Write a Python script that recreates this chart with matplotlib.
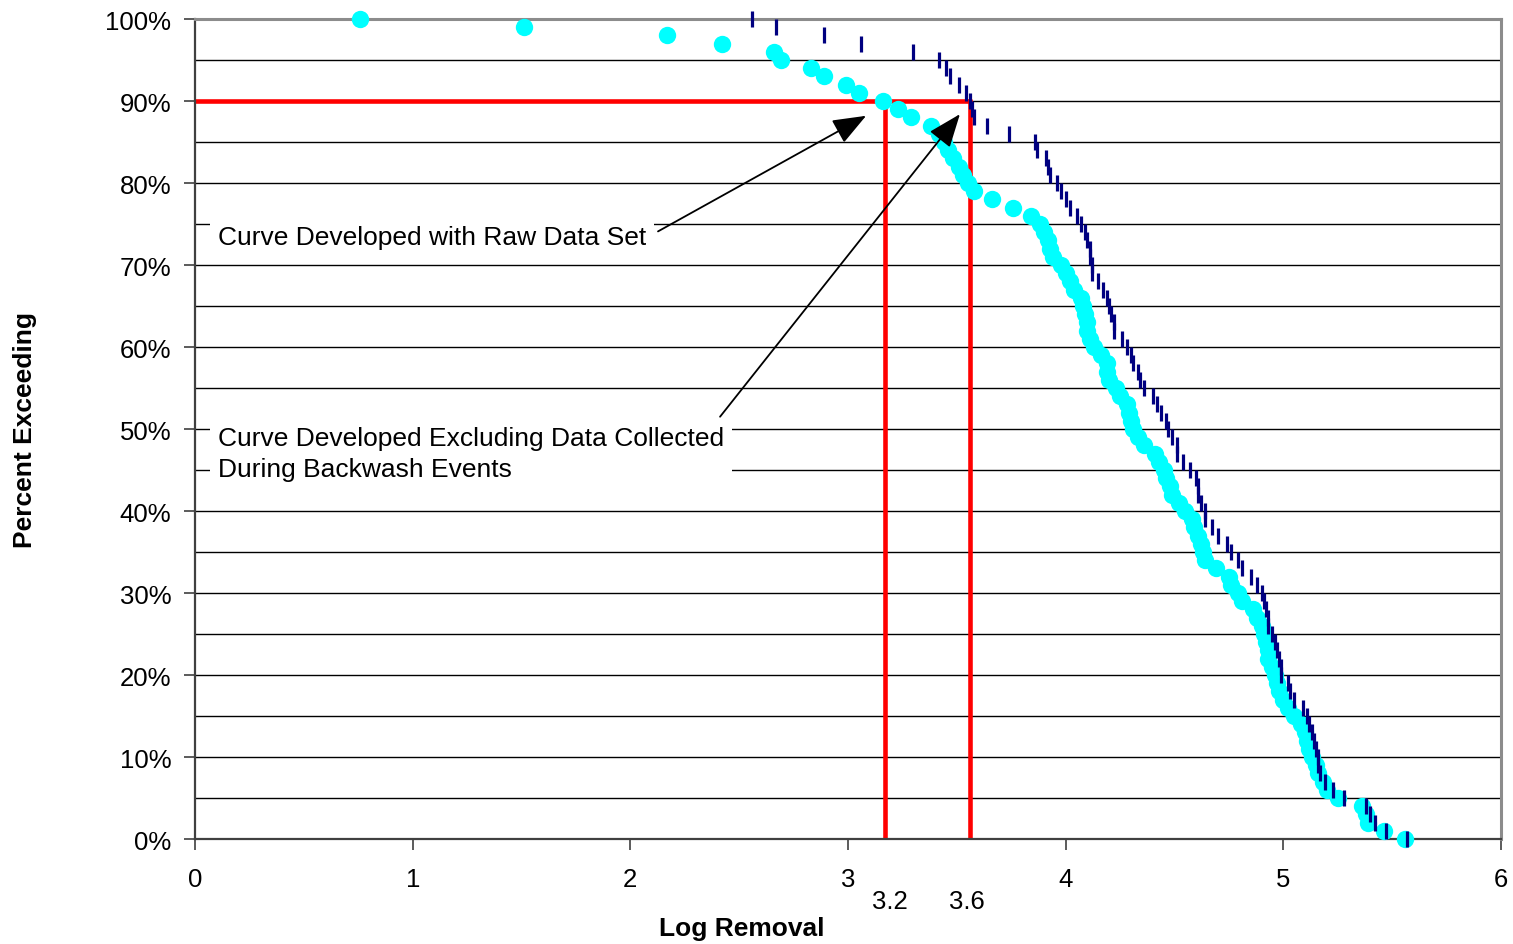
import numpy as np
import matplotlib
matplotlib.use("Agg")
import matplotlib.pyplot as plt
from matplotlib.ticker import MultipleLocator, PercentFormatter

plt.rcParams["font.family"] = ["Liberation Sans", "DejaVu Sans"]

# percent of samples exceeding, one row per ranked sample (100% -> 0%)
EXCEED_PCT = list(range(100, -1, -1))

# log removal, all data (curve excluding backwash events) - cyan dots
LR_EXCL = [
    0.76, 1.51, 2.17, 2.42, 2.66, 2.69, 2.83, 2.89, 2.99, 3.05,
    3.16, 3.23, 3.29, 3.38, 3.42, 3.44, 3.46, 3.48, 3.51, 3.53,
    3.55, 3.58, 3.66, 3.76, 3.84, 3.88, 3.90, 3.92, 3.93, 3.94,
    3.98, 4.00, 4.02, 4.04, 4.07, 4.08, 4.09, 4.10, 4.10, 4.11,
    4.13, 4.16, 4.19, 4.19, 4.20, 4.23, 4.25, 4.28, 4.29, 4.30,
    4.31, 4.33, 4.36, 4.41, 4.43, 4.45, 4.46, 4.48, 4.49, 4.52,
    4.55, 4.58, 4.59, 4.61, 4.62, 4.63, 4.64, 4.69, 4.75, 4.76,
    4.79, 4.81, 4.86, 4.88, 4.90, 4.91, 4.92, 4.93, 4.93, 4.95,
    4.96, 4.97, 4.98, 5.00, 5.02, 5.05, 5.08, 5.10, 5.11, 5.12,
    5.13, 5.15, 5.16, 5.18, 5.20, 5.25, 5.36, 5.38, 5.39, 5.46,
    5.56,
]

# log removal, raw data set - navy dashes
LR_RAW = [
    2.56, 2.67, 2.89, 3.06, 3.30, 3.42, 3.45, 3.47, 3.51, 3.54,
    3.56, 3.57, 3.58, 3.64, 3.74, 3.86, 3.87, 3.91, 3.92, 3.93,
    3.96, 3.98, 4.00, 4.02, 4.05, 4.07, 4.09, 4.10, 4.11, 4.11,
    4.12, 4.12, 4.15, 4.17, 4.19, 4.20, 4.21, 4.22, 4.22, 4.26,
    4.28, 4.30, 4.31, 4.33, 4.34, 4.36, 4.40, 4.42, 4.44, 4.46,
    4.47, 4.49, 4.51, 4.51, 4.54, 4.57, 4.60, 4.61, 4.61, 4.62,
    4.64, 4.64, 4.67, 4.70, 4.74, 4.76, 4.79, 4.81, 4.85, 4.88,
    4.90, 4.91, 4.92, 4.93, 4.93, 4.95, 4.96, 4.97, 4.98, 4.99,
    4.99, 5.02, 5.03, 5.05, 5.09, 5.11, 5.12, 5.13, 5.14, 5.15,
    5.16, 5.16, 5.17, 5.19, 5.23, 5.28, 5.38, 5.40, 5.42, 5.47,
    5.57,
]

# 90% exceedance readings
THRESH_PCT = 90
RAW_AT_90 = 3.17
EXCL_AT_90 = 3.56
THRESH_LABELS = [(3.19, "3.2"), (3.545, "3.6")]

fig = plt.figure(figsize=(15.13, 9.45), dpi=100)
ax = fig.add_axes([0.1289, 0.1111, 0.8632, 0.8677])

ax.set_xlim(0, 6)
ax.set_ylim(0, 100)
ax.xaxis.set_major_locator(MultipleLocator(1))
ax.yaxis.set_major_locator(MultipleLocator(10))
ax.yaxis.set_minor_locator(MultipleLocator(5))
ax.yaxis.set_major_formatter(PercentFormatter(decimals=0))

ax.grid(axis="y", which="both", color="black", lw=1.0, zorder=0)
ax.set_axisbelow(True)

ax.tick_params(axis="both", which="major", direction="out", length=8, width=1.2,
               color="#404040", labelsize=18.5)
ax.tick_params(axis="x", pad=12)
ax.tick_params(axis="y", pad=9)
ax.tick_params(axis="y", which="minor", length=0)

for side in ["top", "right"]:
    ax.spines[side].set_color("#8c8c8c")
    ax.spines[side].set_linewidth(2.2)
for side in ["left", "bottom"]:
    ax.spines[side].set_color("#404040")
    ax.spines[side].set_linewidth(1.6)

# threshold lines
ax.plot([0, EXCL_AT_90], [THRESH_PCT, THRESH_PCT], color="#ff0000", lw=3.3,
        zorder=2, solid_capstyle="butt")
ax.plot([RAW_AT_90, RAW_AT_90], [0, THRESH_PCT], color="#ff0000", lw=3.3,
        zorder=2, solid_capstyle="butt")
ax.plot([EXCL_AT_90, EXCL_AT_90], [0, THRESH_PCT + 0.2], color="#ff0000", lw=3.3,
        zorder=2, solid_capstyle="butt")

ax.plot(LR_EXCL, EXCEED_PCT, linestyle="none", marker="o", ms=12.5,
        mfc="#00ffff", mec="none", zorder=3, clip_on=False)
ax.plot(LR_RAW, EXCEED_PCT, linestyle="none", marker="|", ms=11.5, mew=2.3,
        color="#000080", zorder=4, clip_on=False)

box = dict(boxstyle="square,pad=0.3", fc="white", ec="none")
arrow = dict(arrowstyle="-|>,head_length=0.9,head_width=0.35", color="black",
             lw=1.3, mutation_scale=23, shrinkA=0, shrinkB=0)

ax.text(0.105, 73.4, "Curve Developed with Raw Data Set", fontsize=19,
        ha="left", va="center", bbox=box, zorder=5)
ax.annotate("", xy=(3.083, 88.2), xytext=(2.127, 74.1), arrowprops=arrow, zorder=6)

ax.text(0.105, 47.0, "Curve Developed Excluding Data Collected\nDuring Backwash Events",
        fontsize=19, ha="left", va="center", linespacing=1.33, bbox=box, zorder=5)
ax.annotate("", xy=(3.514, 88.4), xytext=(2.412, 51.5), arrowprops=arrow, zorder=6)

for xv, lab in THRESH_LABELS:
    ax.text(xv, -0.0756, lab, fontsize=18.5, ha="center", va="center",
            transform=ax.get_xaxis_transform())

ax.set_xlabel("Log Removal", fontsize=19, fontweight="bold")
ax.set_ylabel("Percent Exceeding", fontsize=19, fontweight="bold")
ax.xaxis.set_label_coords(0.419, -0.094)
ax.yaxis.set_label_coords(-0.121, 0.5)

fig.savefig("out.png", dpi=100)
